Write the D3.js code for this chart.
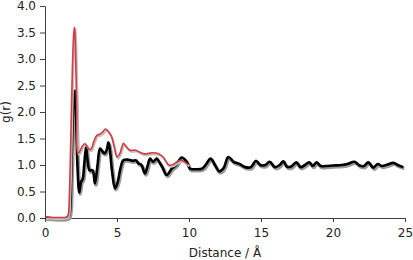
<!DOCTYPE html>
<html>
<head>
<meta charset="utf-8">
<script src="https://cdn.jsdelivr.net/npm/d3@7"></script>
<style>
  body { margin: 0; background: #fff; }
  svg text { font-family: "DejaVu Sans", Verdana, sans-serif; }
</style>
</head>
<body>
<svg width="413" height="260"></svg>
<script>
// tick values
var xTicks = [0, 5, 10, 15, 20, 25];
var yTicks = [0, 0.5, 1, 1.5, 2, 2.5, 3, 3.5, 4];

// black series, full range
var blackR = [0, 1.6, 1.72, 1.82, 1.92, 2.02, 2.08, 2.15, 2.25, 2.38, 2.5, 2.62, 2.72, 2.85, 2.95, 3.1, 3.3, 3.47,
  3.65, 3.82, 4.0, 4.15, 4.3, 4.4, 4.5, 4.65, 4.86, 5.05, 5.25, 5.44, 5.8, 6.1, 6.3, 6.5, 6.7, 6.94, 7.1, 7.3,
  7.5, 7.76, 7.95, 8.15, 8.45, 8.8, 9.1, 9.5, 9.84, 10.07, 10.4, 10.9, 11.15, 11.5, 11.8, 12.1, 12.4, 12.73,
  13.1, 13.5, 13.9, 14.3, 14.65, 14.95, 15.3, 15.6, 15.97, 16.3, 16.55, 16.8, 17.1, 17.45, 17.75, 18.05, 18.35,
  18.6, 18.85, 19.15, 19.5, 20.0, 20.6, 21.0, 21.5, 21.85, 22.15, 22.45, 22.8, 23.1, 23.4, 23.8, 24.2, 24.5, 24.88];
var blackG = [0.01, 0.01, 0.1, 0.8, 1.8, 2.35, 2.4, 2.0, 1.0, 0.48, 0.68, 0.74, 1.0, 1.34, 1.1, 0.9, 0.9, 0.65,
  1.0, 1.31, 1.25, 1.22, 1.3, 1.43, 1.3, 0.9, 0.56, 0.68, 0.95, 1.09, 1.1, 1.08, 1.09, 1.03, 1.0, 0.84, 0.96, 1.12,
  1.06, 1.12, 1.05, 0.96, 0.81, 0.93, 1.0, 1.14, 1.06, 0.93, 0.92, 0.93, 1.0, 1.12, 1.0, 0.88, 0.94, 1.15,
  1.06, 1.02, 0.96, 0.96, 1.08, 1.0, 1.0, 1.06, 0.96, 1.0, 1.07, 0.97, 0.97, 1.05, 0.96, 1.0, 1.05,
  0.98, 1.05, 0.98, 0.98, 0.99, 1.0, 1.02, 1.06, 0.99, 0.98, 1.05, 0.95, 1.02, 0.98, 1.01, 1.04, 1.0, 0.96];

// red series, up to ~10 A
var redR = [0, 1.5, 1.6, 1.7, 1.8, 1.9, 2.0, 2.05, 2.1, 2.2, 2.28, 2.4, 2.6, 2.78, 2.9, 3.1, 3.2, 3.4, 3.6, 3.8,
  4.0, 4.2, 4.4, 4.6, 4.8, 5.0, 5.2, 5.45, 5.6, 5.9, 6.3, 6.6, 6.9, 7.2, 7.5, 7.9, 8.2, 8.6, 8.9, 9.1, 9.4, 9.7, 9.95];
var redG = [0.02, 0.02, 0.05, 0.5, 1.6, 2.8, 3.5, 3.6, 3.35, 2.1, 1.22, 1.25, 1.36, 1.40, 1.36, 1.29, 1.30, 1.45, 1.56, 1.58,
  1.62, 1.68, 1.63, 1.55, 1.35, 1.15, 1.22, 1.41, 1.36, 1.28, 1.28, 1.24, 1.21, 1.22, 1.23, 1.21, 1.15, 1.0, 1.01, 1.05, 1.09, 1.06, 1.0];

var svg = d3.select("svg");
var plotL = 45, plotR = 405, plotT = 6, plotB = 218;

var x = d3.scaleLinear().domain([0, 25]).range([plotL, plotR]);
var y = d3.scaleLinear().domain([0, 4]).range([plotB, plotT]);

var axisColor = "#404040";

var gx = svg.append("g")
    .attr("transform", "translate(0," + plotB + ")")
    .call(d3.axisBottom(x).tickValues(xTicks).tickSize(4).tickSizeOuter(0).tickPadding(6));
var gy = svg.append("g")
    .attr("transform", "translate(" + plotL + ",0)")
    .call(d3.axisLeft(y).tickValues(yTicks).tickFormat(d3.format(".1f")).tickSize(5).tickSizeOuter(0).tickPadding(4));

[gx, gy].forEach(function (g) {
  g.selectAll("path, line").attr("stroke", axisColor);
  g.selectAll("text").attr("fill", "#222").attr("font-size", 12)
    .attr("font-family", "DejaVu Sans, Verdana, sans-serif");
});

svg.append("text")
    .attr("x", (plotL + plotR) / 2)
    .attr("y", 257)
    .attr("text-anchor", "middle")
    .attr("font-size", 12)
    .attr("fill", "#222")
    .text("Distance / Å");
svg.append("text")
    .attr("transform", "translate(10," + ((plotT + plotB) / 2) + ") rotate(-90)")
    .attr("text-anchor", "middle")
    .attr("font-size", 12)
    .attr("fill", "#222")
    .text("g(r)");

var line = d3.line()
    .x(function (d) { return x(d[0]); })
    .y(function (d) { return y(d[1]); })
    .curve(d3.curveCatmullRom.alpha(0.5));

var black = d3.zip(blackR, blackG);
var red = d3.zip(redR, redG);

// shadows
svg.append("path").attr("d", line(black))
    .attr("transform", "translate(1,1.5)")
    .style("fill", "none").style("stroke", "#9a9a9a").style("stroke-width", 3.5);
svg.append("path").attr("d", line(black))
    .style("fill", "none").style("stroke", "#000").style("stroke-width", 2.6)
    .style("stroke-linejoin", "round");

svg.append("path").attr("d", line(red))
    .attr("transform", "translate(1,1.5)")
    .style("fill", "none").style("stroke", "#c0c0c0").style("stroke-width", 2);
svg.append("path").attr("d", line(red))
    .style("fill", "none").style("stroke", "#d63a42").style("stroke-width", 1.6)
    .style("stroke-linejoin", "round");
</script>
</body>
</html>
